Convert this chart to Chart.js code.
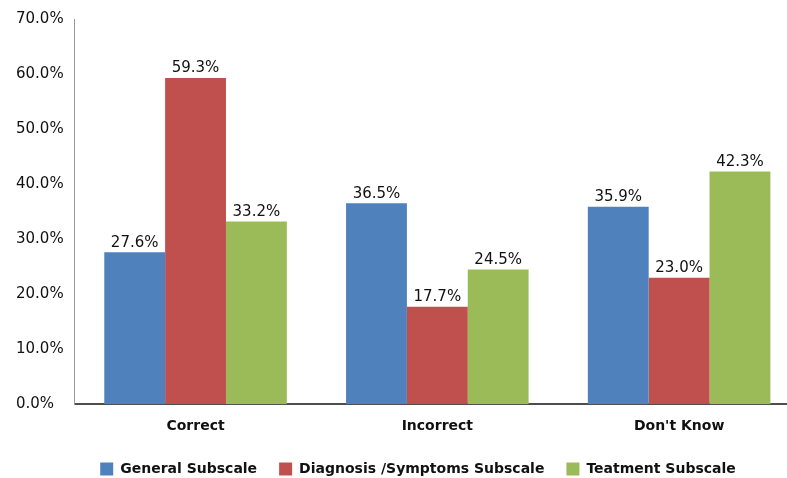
<!DOCTYPE html>
<html>
<head>
<meta charset="utf-8">
<script src="https://cdn.jsdelivr.net/npm/chart.js@4/dist/chart.umd.min.js"></script>
<style>
  html, body { margin: 0; padding: 0; background: #fff; overflow: hidden; }
  #wrap { width: 836px; height: 478px; }
</style>
</head>
<body>
<div id="wrap"><canvas id="myChart"></canvas></div>
<script>
const categories = ["Correct", "Incorrect", "Don't Know"];
const seriesNames = ["General Subscale", "Diagnosis /Symptoms Subscale", "Teatment Subscale"];
const generalVals = [27.6, 36.5, 35.9];
const diagnosisVals = [59.3, 17.7, 23.0];
const treatmentVals = [33.2, 24.5, 42.3];
const yTicks = [0, 10, 20, 30, 40, 50, 60, 70];

const colors = ["#4F81BD", "#C0504D", "#9BBB59"];

// etiquetas encima de cada barra
const valueLabels = {
    id: "valueLabels",
    afterDatasetsDraw(chart) {
        const ctx = chart.ctx;
        ctx.save();
        ctx.font = "15px 'DejaVu Sans'";
        ctx.fillStyle = "#111";
        ctx.textAlign = "center";
        ctx.textBaseline = "bottom";
        chart.data.datasets.forEach((ds, i) => {
            chart.getDatasetMeta(i).data.forEach((bar, j) => {
                ctx.fillText(ds.data[j].toFixed(1) + "%", bar.x, bar.y - 2);
            });
        });
        ctx.restore();
    }
};

// mueve la leyenda un poco a la derecha
const legendShift = {
    id: "legendShift",
    afterLayout(chart) {
        chart.legend.left += 10;
        chart.legend.right += 10;
    }
};

new Chart("myChart", {
    type: "bar",
    data: {
        labels: categories,
        datasets: [
            { label: seriesNames[0], data: generalVals, backgroundColor: colors[0] },
            { label: seriesNames[1], data: diagnosisVals, backgroundColor: colors[1] },
            { label: seriesNames[2], data: treatmentVals, backgroundColor: colors[2] }
        ]
    },
    options: {
        responsive: true,
        maintainAspectRatio: false,
        animation: false,
        layout: { padding: { left: 16, right: 36, top: 17, bottom: -8 } },
        datasets: { bar: { barPercentage: 1.0, categoryPercentage: 0.755 } },
        plugins: {
            legend: {
                position: "bottom",
                labels: {
                    boxWidth: 13,
                    boxHeight: 13,
                    padding: 22,
                    color: "#111",
                    font: { family: "DejaVu Sans", size: 14, weight: "bold" }
                }
            },
            tooltip: { enabled: false }
        },
        scales: {
            x: {
                grid: { display: false, drawTicks: false },
                border: { color: "#4d4d4d", width: 2 },
                afterFit: scale => { scale.height -= 9; },
                ticks: {
                    padding: 14,
                    color: "#111",
                    font: { family: "DejaVu Sans", size: 14, weight: "bold" }
                }
            },
            y: {
                min: 0,
                max: 70,
                afterBuildTicks: axis => { axis.ticks = yTicks.map(v => ({ value: v })); },
                grid: { display: false, drawTicks: false },
                border: { color: "#999", width: 1 },
                afterFit: scale => { scale.width -= 9; },
                ticks: {
                    crossAlign: "far",
                    padding: 10,
                    color: "#111",
                    font: { family: "DejaVu Sans", size: 15 },
                    callback: v => v.toFixed(1) + "%"
                }
            }
        }
    },
    plugins: [valueLabels, legendShift]
});
</script>
</body>
</html>
